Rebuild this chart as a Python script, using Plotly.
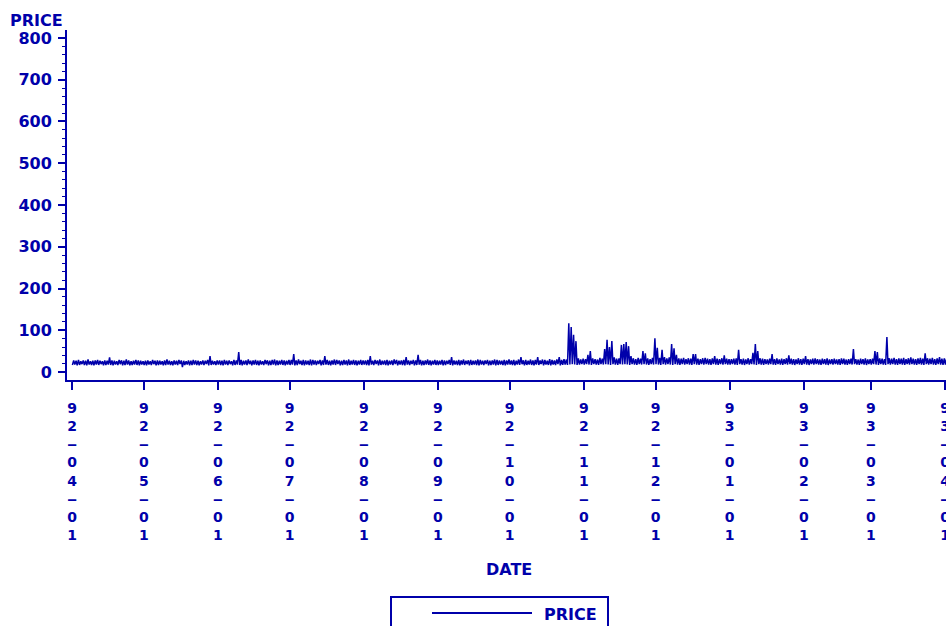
import pandas as pd
import plotly.graph_objects as go

# ---------------- data ----------------
start_date = "1992-04-01"

# daily upper envelope of PRICE (Apr 1992 .. Apr 1 1993)
high_apr = [28,27,29,26,28,27,30,26,27,28,29,27,26,28,27,35,28,27,26,29,28,27,30,28,26,27,29,28,27,26]
high_may = [27,28,26,29,27,28,27,26,28,30,27,26,28,27,29,28,27,26,28,27,29,28,27,26,28,27,29,38,27,26,28]
high_jun = [28,27,29,27,28,26,29,28,48,29,27,28,30,27,28,29,27,28,26,29,28,27,29,30,28,27,29,28,27,29]
high_jul = [29,43,28,30,27,29,28,27,30,29,28,27,29,28,38,29,27,28,30,29,28,27,29,28,30,27,29,28,27,29,28]
high_aug = [28,29,38,27,29,28,30,27,28,29,27,28,30,29,27,28,29,36,28,27,29,28,41,29,27,28,30,28,27,29,28]
high_sep = [27,29,28,27,29,36,28,27,29,28,30,27,28,29,27,28,30,29,27,28,29,27,28,30,29,28,27,29,28,30]
high_oct = [28,29,27,30,36,28,29,27,30,28,29,36,28,30,29,27,31,29,28,30,36,29,31,30,117,108,89,74,33,30,32]
high_nov = [31,41,50,33,31,30,34,32,55,77,60,74,35,32,33,65,67,72,62,38,33,31,34,32,50,45,33,31,34,81]
high_dec = [58,34,53,36,33,35,67,57,41,33,32,34,31,33,32,43,43,32,31,33,34,32,31,33,38,32,31,33,40,32,31]
high_jan = [31,32,33,53,31,32,30,33,31,46,67,50,33,32,31,30,32,43,31,33,30,32,31,33,40,32,31,30,33,31,32]
high_feb = [38,31,30,32,33,31,30,32,31,33,30,31,32,30,31,33,32,30,31,32,55,31,30,32,31,33,30,31]
high_mar = [32,50,48,33,32,31,84,33,32,34,31,33,32,34,31,33,35,32,31,33,34,32,45,33,32,34,31,33,36,32,33]
high_apr93 = [32]

# daily lower envelope of PRICE
low_apr = [17,18,16,17,19,17,16,18,17,16,18,17,19,16,17,18,17,16,18,17,19,16,17,18,16,17,18,17,16,18]
low_may = [17,16,18,17,19,16,17,18,16,17,18,17,16,18,17,19,12,17,18,16,17,18,17,16,18,17,19,16,17,18,17]
low_jun = [18,17,16,18,17,19,16,17,18,17,16,18,17,19,16,18,17,16,18,17,19,16,17,18,16,17,18,17,16,18]
low_jul = [17,18,16,17,19,17,16,18,17,16,18,17,19,16,17,18,17,16,18,17,19,16,17,18,16,17,18,17,16,18,17]
low_aug = [18,17,16,18,17,19,16,17,18,17,16,18,17,19,16,18,17,16,18,17,19,16,17,18,16,17,18,17,16,18,17]
low_sep = [17,18,16,17,19,17,16,18,17,16,18,17,19,16,17,18,17,16,18,17,19,16,17,18,16,17,18,17,16,18]
low_oct = [18,17,16,18,17,19,16,17,18,17,16,18,17,19,16,18,17,16,18,17,19,16,17,18,17,18,19,18,17,18,19]
low_nov = [18,19,18,17,19,18,17,19,18,19,18,17,19,18,17,19,18,19,18,17,19,18,17,19,18,19,18,17,19,18]
low_dec = [19,18,17,19,18,19,18,17,19,18,17,19,18,19,18,17,19,18,17,19,18,19,18,17,19,18,17,19,18,19,18]
low_jan = [18,19,18,17,19,18,17,19,18,19,18,17,19,18,17,19,18,19,18,17,19,18,17,19,18,19,18,17,19,18,17]
low_feb = [19,18,17,19,18,19,18,17,19,18,17,19,18,19,18,17,19,18,17,19,18,19,18,17,19,18,17,19]
low_mar = [18,19,18,17,19,18,17,19,18,19,18,17,19,18,17,19,18,19,18,17,19,18,17,19,18,19,18,17,19,18,17]
low_apr93 = [18]

tick_dates = ["1992-04-01","1992-05-01","1992-06-01","1992-07-01","1992-08-01","1992-09-01",
              "1992-10-01","1992-11-01","1992-12-01","1993-01-01","1993-02-01","1993-03-01","1993-04-01"]
tick_labels = ["92-04-01","92-05-01","92-06-01","92-07-01","92-08-01","92-09-01",
               "92-10-01","92-11-01","92-12-01","93-01-01","93-02-01","93-03-01","93-04-01"]
y_ticks = [0,100,200,300,400,500,600,700,800]

# ---------------- build series ----------------
highs = (high_apr+high_may+high_jun+high_jul+high_aug+high_sep+high_oct+high_nov+
         high_dec+high_jan+high_feb+high_mar+high_apr93)
lows = (low_apr+low_may+low_jun+low_jul+low_aug+low_sep+low_oct+low_nov+
        low_dec+low_jan+low_feb+low_mar+low_apr93)
n = min(len(highs), len(lows))
days = pd.date_range(start_date, periods=n, freq="D")
xs, ys = [], []
for d, lo, hi in zip(days, lows[:n], highs[:n]):
    xs.append(d + pd.Timedelta(hours=4)); ys.append(lo)
    xs.append(d + pd.Timedelta(hours=17)); ys.append(hi)

BLUE = "#0000AA"
FONT = "DejaVu Sans"

W, H = 946, 626
L, R, T, B = 67, 946, 30, 380  # plot area in pixels

def px(x):
    return (x - L) / (R - L)

def py(y):
    return (B - y) / (B - T)

fig = go.Figure()
fig.add_trace(go.Scatter(x=xs, y=ys, mode="lines", name="PRICE",
                         line=dict(color=BLUE, width=1.5), showlegend=False))

stacked = ["<br>".join(ch if ch != "-" else "\u2012" for ch in s) for s in tick_labels]

fig.update_layout(
    width=W, height=H,
    margin=dict(l=L, r=W - R, t=T, b=H - B, pad=0, autoexpand=False),
    paper_bgcolor="white", plot_bgcolor="white",
    font=dict(family=FONT, color=BLUE),
    xaxis=dict(
        type="date",
        range=["1992-03-29 21:50", "1993-04-01 10:00"],
        tickvals=tick_dates, ticktext=stacked,
        tickfont=dict(family=FONT, size=14, color=BLUE, weight="bold"),
        ticks="outside", ticklen=8, tickwidth=2, tickcolor=BLUE,
        showline=True, linecolor=BLUE, linewidth=2,
        showgrid=False, zeroline=False, ticklabelstandoff=6,
        ticklabeloverflow="allow", automargin=False,
    ),
    yaxis=dict(
        range=[-19, 819],
        tickvals=y_ticks,
        tickfont=dict(family=FONT, size=16, color=BLUE, weight="bold"),
        ticks="outside", ticklen=7, tickwidth=2, tickcolor=BLUE,
        minor=dict(dtick=20, ticks="outside", ticklen=3, tickwidth=1, tickcolor=BLUE),
        showline=True, linecolor=BLUE, linewidth=2,
        showgrid=False, zeroline=False, ticklabelstandoff=3, automargin=False,
    ),
)

title_font = dict(family=FONT, size=16, color=BLUE, weight="bold")
fig.add_annotation(text="PRICE", xref="paper", yref="paper", x=px(8), y=py(20),
                   xanchor="left", yanchor="middle", showarrow=False, font=title_font)
fig.add_annotation(text="DATE", xref="paper", yref="paper", x=px(509), y=py(569),
                   xanchor="center", yanchor="middle", showarrow=False, font=title_font)

# legend box drawn as shapes
fig.add_shape(type="rect", xref="paper", yref="paper", x0=px(391), x1=px(608),
              y0=py(597), y1=py(660), line=dict(color=BLUE, width=2))
fig.add_shape(type="line", xref="paper", yref="paper", x0=px(432), x1=px(532),
              y0=py(613), y1=py(613), line=dict(color=BLUE, width=2))
fig.add_annotation(text="PRICE", xref="paper", yref="paper", x=px(542), y=py(614),
                   xanchor="left", yanchor="middle", showarrow=False, font=title_font)

post = (
    "document.documentElement.style.margin='0';"
    "document.documentElement.style.overflow='hidden';"
    "document.body.style.margin='0';"
    "document.body.style.overflow='hidden';"
)
fig.write_html("out.html", config={"displayModeBar": False}, post_script=post)
